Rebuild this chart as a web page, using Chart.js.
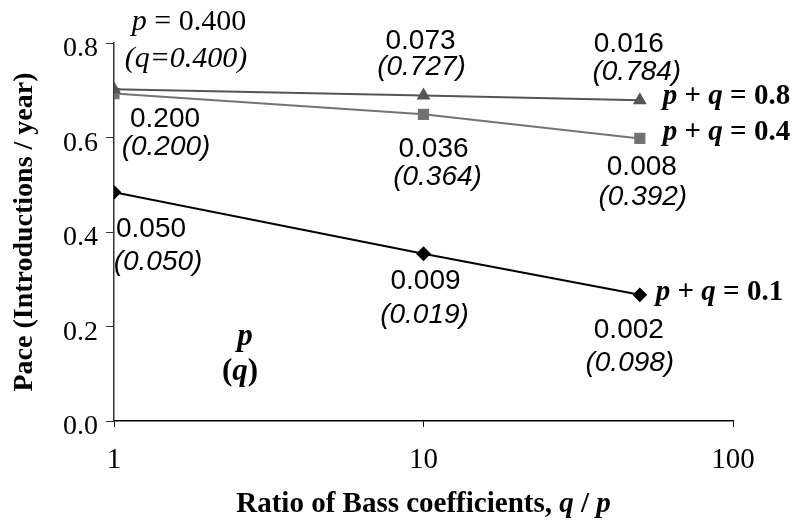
<!DOCTYPE html>
<html>
<head>
<meta charset="utf-8">
<script src="https://cdn.jsdelivr.net/npm/chart.js@4"></script>
<style>
  html, body { margin: 0; padding: 0; background: #fff; }
  canvas { display: block; }
</style>
</head>
<body>
<canvas id="paceChart" width="796" height="527"></canvas>
<script>
// Ratio q/p on the x axis (log scale)
const ratios = [1, 10, 50];

// Pace for each p + q value
const pace08 = [0.702, 0.689, 0.679];
const pace04 = [0.693, 0.649, 0.598];
const pace01 = [0.484, 0.354, 0.267];

// p and q annotations for each point
const pValues08 = ['0.400', '0.073', '0.016'];
const qValues08 = ['0.400', '0.727', '0.784'];
const pValues04 = ['0.200', '0.036', '0.008'];
const qValues04 = ['0.200', '0.364', '0.392'];
const pValues01 = ['0.050', '0.009', '0.002'];
const qValues01 = ['0.050', '0.019', '0.098'];

const seriesNames = ['0.8', '0.4', '0.1'];
const xTicks = [1, 10, 100];
const yTicks = [0, 0.2, 0.4, 0.6, 0.8];

const SERIF = '"Liberation Serif", "Times New Roman", serif';
const SANS = '"Liberation Sans", Arial, sans-serif';

// label offsets from each point: [dx, dy] for p line and q line
const labelOffsets = [
    [[[75, -67], [72, -30]], [[-3, -54], [-2, -28]], [[-11, -56], [-3, -28]]],
    [[[51, 26], [52, 54]], [[10, 35], [14, 63]], [[2, 29], [3, 59]]],
    [[[37, 37], [44, 70]], [[2, 28], [1, 61]], [[-11, 35], [-10, 68]]]
];
const nameOffsets = [[23, -4], [23, -6], [16, -2]];

function drawRuns(ctx, runs, x, y, align) {
    let total = 0;
    runs.forEach(r => { ctx.font = r.font; total += ctx.measureText(r.text).width; });
    let cx = align === 'center' ? x - total / 2 : x;
    ctx.textAlign = 'left';
    ctx.textBaseline = 'middle';
    runs.forEach(r => {
        ctx.font = r.font;
        ctx.fillText(r.text, cx, y);
        cx += ctx.measureText(r.text).width;
    });
}

const labelPlugin = {
    id: 'pointLabels',
    afterDatasetsDraw(chart) {
        const ctx = chart.ctx;
        ctx.save();
        ctx.fillStyle = '#000';
        const pSets = [pValues08, pValues04, pValues01];
        const qSets = [qValues08, qValues04, qValues01];
        const num = '28px ' + SANS;
        const numIt = 'italic 28px ' + SANS;

        pSets.forEach((pv, i) => {
            const pts = chart.getDatasetMeta(i).data;
            pts.forEach((pt, j) => {
                const [po, qo] = labelOffsets[i][j];
                if (i === 0 && j === 0) {
                    drawRuns(ctx, [
                        { text: 'p', font: 'italic 30px ' + SERIF },
                        { text: ' = ' + pv[j], font: '30px ' + SERIF }
                    ], pt.x + po[0], pt.y + po[1], 'center');
                    drawRuns(ctx, [
                        { text: '(q=' + qSets[i][j] + ')', font: 'italic 30px ' + SERIF }
                    ], pt.x + qo[0], pt.y + qo[1], 'center');
                } else {
                    drawRuns(ctx, [{ text: pv[j], font: num }], pt.x + po[0], pt.y + po[1], 'center');
                    drawRuns(ctx, [{ text: '(' + qSets[i][j] + ')', font: numIt }], pt.x + qo[0], pt.y + qo[1], 'center');
                }
            });
            // series name at the last point
            const last = pts[pts.length - 1];
            const bi = 'bold italic 29px ' + SERIF;
            const b = 'bold 29px ' + SERIF;
            drawRuns(ctx, [
                { text: 'p', font: bi },
                { text: ' + ', font: b },
                { text: 'q', font: bi },
                { text: ' = ' + seriesNames[i], font: b }
            ], last.x + nameOffsets[i][0], last.y + nameOffsets[i][1], 'left');
        });

        // key: p over (q)
        const xs = chart.scales.x, ys = chart.scales.y;
        const kx = xs.getPixelForValue(2.65);
        drawRuns(ctx, [{ text: 'p', font: 'bold italic 31px ' + SERIF }], kx, ys.getPixelForValue(0.178), 'center');
        drawRuns(ctx, [
            { text: '(', font: 'bold 31px ' + SERIF },
            { text: 'q', font: 'bold italic 31px ' + SERIF },
            { text: ')', font: 'bold 31px ' + SERIF }
        ], kx - 5, ys.getPixelForValue(0.104), 'center');

        // x axis title with italic q / p
        const b = 'bold 29px ' + SERIF, bi = 'bold italic 29px ' + SERIF;
        drawRuns(ctx, [
            { text: 'Ratio of Bass coefficients, ', font: b },
            { text: 'q', font: bi },
            { text: ' / ', font: b },
            { text: 'p', font: bi }
        ], (chart.chartArea.left + chart.chartArea.right) / 2, 505, 'center');
        ctx.restore();
    }
};

const ctx = document.getElementById('paceChart').getContext('2d');
new Chart(ctx, {
    type: 'scatter',
    data: {
        datasets: [
            {
                label: 'p + q = 0.8',
                data: ratios.map((r, i) => ({ x: r, y: pace08[i] })),
                showLine: true,
                borderColor: '#555555',
                backgroundColor: '#555555',
                borderWidth: 2,
                pointStyle: 'triangle',
                pointRadius: 6
            },
            {
                label: 'p + q = 0.4',
                data: ratios.map((r, i) => ({ x: r, y: pace04[i] })),
                showLine: true,
                borderColor: '#747474',
                backgroundColor: '#707070',
                borderWidth: 2,
                pointStyle: 'rect',
                pointRadius: 6.5
            },
            {
                label: 'p + q = 0.1',
                data: ratios.map((r, i) => ({ x: r, y: pace01[i] })),
                showLine: true,
                borderColor: '#000000',
                backgroundColor: '#000000',
                borderWidth: 2,
                pointStyle: 'rectRot',
                pointRadius: 6
            }
        ]
    },
    options: {
        responsive: false,
        animation: false,
        layout: { padding: { top: 43, right: 63, left: 0, bottom: 0 } },
        plugins: {
            legend: { display: false },
            tooltip: { enabled: false }
        },
        scales: {
            x: {
                type: 'logarithmic',
                min: 1,
                max: 100,
                afterBuildTicks: axis => { axis.ticks = xTicks.map(v => ({ value: v })); },
                afterFit: axis => { axis.height = 527 - 421; },
                border: { display: true, color: '#000', width: 1.5 },
                grid: { drawOnChartArea: false, drawTicks: true, tickLength: 6, color: '#000' },
                ticks: {
                    color: '#000',
                    font: { family: SERIF, size: 29 },
                    padding: 16,
                    maxRotation: 0,
                    callback: v => String(v)
                },
                title: { display: false }
            },
            y: {
                min: 0,
                max: 0.8,
                afterBuildTicks: axis => { axis.ticks = yTicks.map(v => ({ value: v })); },
                afterFit: axis => { axis.width = 114; },
                border: { display: true, color: '#333', width: 1.5 },
                grid: { drawOnChartArea: false, drawTicks: true, tickLength: 8, color: '#333' },
                ticks: {
                    color: '#000',
                    font: { family: SERIF, size: 28 },
                    padding: 8,
                    labelOffset: 6,
                    callback: v => v.toFixed(1)
                },
                title: {
                    display: true,
                    text: 'Pace (Introductions / year)',
                    color: '#000',
                    font: { family: SERIF, size: 28, weight: 'bold' },
                    padding: { top: 8, bottom: 0 }
                }
            }
        }
    },
    plugins: [labelPlugin]
});
</script>
</body>
</html>
